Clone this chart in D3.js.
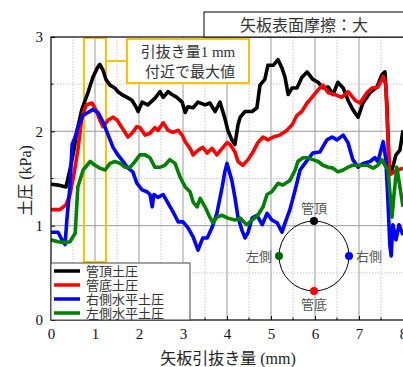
<!DOCTYPE html>
<html>
<head>
<meta charset="utf-8">
<script src="https://cdn.jsdelivr.net/npm/d3@7"></script>
<style>
  body { margin: 0; background: #fff; }
  svg { display: block; font-family: "Liberation Serif", "Noto Sans CJK JP", serif; }
</style>
</head>
<body>
<div id="chart"></div>
<script>
// pull-out displacement (mm) and earth pressure (kPa)
const topX = [0,0.16,0.34,0.43,0.52,0.59,0.70,0.84,0.95,1.05,1.11,1.18,1.25,1.34,1.45,1.52,1.61,1.73,1.84,1.93,1.98,2.07,2.20,2.36,2.48,2.55,2.66,2.75,2.86,2.98,3.05,3.11,3.23,3.34,3.50,3.61,3.73,3.84,3.95,4.02,4.11,4.18,4.25,4.30,4.41,4.57,4.68,4.75,4.86,4.93,5.05,5.16,5.25,5.32,5.39,5.48,5.59,5.70,5.82,5.95,6.07,6.18,6.30,6.41,6.52,6.64,6.75,6.86,6.98,7.09,7.25,7.41,7.52,7.59,7.64,7.68,7.75,7.84,7.93,8.0];
const topP = [1.44,1.43,1.41,1.59,1.80,2.00,2.23,2.41,2.57,2.67,2.71,2.65,2.55,2.49,2.46,2.42,2.39,2.36,2.33,2.26,2.21,2.31,2.28,2.35,2.42,2.36,2.42,2.39,2.36,2.31,2.20,2.26,2.25,2.31,2.28,2.30,2.21,2.31,2.14,2.01,1.91,1.86,2.07,2.15,2.21,2.21,2.25,2.49,2.55,2.70,2.70,2.76,2.67,2.57,2.39,2.46,2.46,2.57,2.63,2.55,2.52,2.46,2.47,2.39,2.52,2.46,2.33,2.23,2.15,2.30,2.41,2.47,2.60,2.63,2.23,1.64,1.59,1.75,1.80,2.01];

const bottomX = [0,0.20,0.34,0.43,0.52,0.61,0.70,0.80,0.93,1.02,1.11,1.18,1.30,1.41,1.50,1.61,1.75,1.84,1.95,2.02,2.14,2.25,2.36,2.43,2.55,2.66,2.77,2.89,2.98,3.05,3.16,3.23,3.34,3.45,3.55,3.66,3.77,3.89,4.00,4.07,4.18,4.25,4.36,4.48,4.59,4.70,4.82,4.93,5.05,5.20,5.36,5.48,5.59,5.70,5.82,5.93,6.07,6.18,6.30,6.45,6.61,6.75,6.91,7.02,7.18,7.30,7.43,7.55,7.61,7.66,7.70,7.80,7.89,8.0];
const bottomP = [1.17,1.17,1.22,1.33,1.54,1.80,2.14,2.28,2.30,2.23,2.12,2.05,2.12,2.15,2.12,2.04,1.94,1.98,2.05,2.04,1.96,1.98,2.04,2.01,2.09,2.01,1.99,2.01,1.96,1.89,1.82,1.75,1.80,1.83,1.77,1.82,1.75,1.82,1.88,1.86,1.78,1.68,1.64,1.70,1.78,1.88,1.94,1.91,1.94,1.96,2.01,2.07,2.17,2.21,2.30,2.36,2.44,2.49,2.41,2.39,2.36,2.42,2.33,2.30,2.41,2.46,2.47,2.58,2.49,1.91,1.54,1.57,1.59,1.61];

const rightX = [0,0.16,0.25,0.32,0.36,0.43,0.48,0.55,0.61,0.73,0.84,0.95,1.07,1.18,1.30,1.41,1.52,1.64,1.75,1.86,1.95,2.07,2.18,2.25,2.30,2.34,2.43,2.55,2.66,2.77,2.89,3.00,3.11,3.23,3.34,3.45,3.55,3.66,3.77,3.89,3.95,4.00,4.11,4.18,4.25,4.34,4.41,4.48,4.57,4.68,4.80,4.91,5.02,5.14,5.25,5.32,5.43,5.55,5.66,5.77,5.95,6.11,6.27,6.39,6.50,6.64,6.75,6.86,6.98,7.09,7.25,7.36,7.43,7.55,7.61,7.66,7.70,7.73,7.77,7.84,7.91,8.0];
const rightP = [0.93,0.93,0.85,0.80,1.06,1.41,1.86,1.94,2.04,2.17,2.20,2.23,2.20,2.10,1.96,1.83,1.75,1.68,1.61,1.57,1.45,1.38,1.36,1.33,1.20,1.33,1.30,1.33,1.24,1.15,1.04,1.04,0.98,0.88,0.74,0.87,0.87,0.98,1.13,1.41,1.57,1.66,1.48,1.30,1.09,0.95,0.87,0.93,1.08,1.11,1.01,1.13,1.06,1.03,0.93,1.03,1.17,1.38,1.59,1.66,1.77,1.78,1.91,1.94,1.91,1.96,1.88,1.70,1.62,1.66,1.68,1.72,1.68,1.89,1.70,1.24,0.80,0.68,1.01,0.85,1.01,0.90];

const leftX = [0,0.16,0.32,0.43,0.55,0.61,0.73,0.89,1.00,1.11,1.23,1.34,1.45,1.57,1.68,1.80,1.91,2.02,2.14,2.25,2.36,2.48,2.59,2.70,2.82,2.93,3.05,3.16,3.23,3.32,3.39,3.50,3.61,3.68,3.77,3.89,4.02,4.18,4.30,4.45,4.57,4.70,4.82,4.91,5.02,5.16,5.27,5.43,5.55,5.61,5.73,5.84,5.95,6.07,6.18,6.30,6.41,6.52,6.64,6.75,6.86,7.09,7.20,7.32,7.43,7.52,7.59,7.66,7.75,7.80,7.86,7.93,8.0];
const leftP = [0.85,0.83,0.82,0.83,0.92,1.41,1.59,1.68,1.64,1.61,1.59,1.66,1.68,1.66,1.62,1.62,1.68,1.75,1.75,1.72,1.62,1.62,1.64,1.70,1.66,1.52,1.41,1.36,1.25,1.20,1.29,1.20,1.09,1.03,1.09,1.11,1.08,1.06,1.08,1.01,1.06,1.11,1.20,1.33,1.36,1.45,1.43,1.48,1.59,1.68,1.72,1.72,1.70,1.68,1.64,1.62,1.61,1.57,1.59,1.62,1.64,1.64,1.64,1.61,1.64,1.70,1.64,1.59,1.09,1.35,1.62,1.41,1.20];

const seriesNames = ['管頂土圧', '管底土圧', '右側水平土圧', '左側水平土圧'];
const seriesColors = ['#000000', '#ff0000', '#0000ff', '#008000'];
const xTicks = [0, 1, 2, 3, 4, 5, 6, 7, 8];
const yTicks = [0, 1, 2, 3];
const peakBand = [0.75, 1.25];   // highlighted range around 1 mm

const W = 403, H = 367;
const margin = { top: 37, right: 0, bottom: 47, left: 51 };
const pw = 352, ph = H - margin.top - margin.bottom;

const svg = d3.select('#chart').append('svg').attr('width', W).attr('height', H);

const x = d3.scaleLinear().domain([0, 8]).range([margin.left, margin.left + pw]);
const y = d3.scaleLinear().domain([0, 3]).range([margin.top + ph, margin.top]);

svg.append('defs').append('clipPath').attr('id', 'plotclip')
  .append('rect').attr('x', margin.left).attr('y', margin.top).attr('width', pw).attr('height', ph);

// grid: solid on integers, dotted on halves
const grid = svg.append('g');
d3.range(0.5, 8, 0.5).forEach(v => {
  const major = v % 1 === 0;
  grid.append('line')
    .attr('x1', x(v)).attr('x2', x(v)).attr('y1', y(0)).attr('y2', y(3))
    .attr('stroke', major ? '#9a9a9a' : '#c8c8c8')
    .attr('stroke-width', 1)
    .attr('stroke-dasharray', major ? null : '1.5,1.5');
});
d3.range(0.5, 3, 0.5).forEach(v => {
  const major = v % 1 === 0;
  grid.append('line')
    .attr('x1', x(0)).attr('x2', x(8)).attr('y1', y(v)).attr('y2', y(v))
    .attr('stroke', major ? '#9a9a9a' : '#c8c8c8')
    .attr('stroke-width', 1)
    .attr('stroke-dasharray', major ? null : '1.5,1.5');
});

// orange band around the peak
const orange = '#ffc000';
svg.append('rect')
  .attr('x', x(peakBand[0])).attr('y', y(3) + 1)
  .attr('width', x(peakBand[1]) - x(peakBand[0]))
  .attr('height', 224)
  .attr('fill', 'none').attr('stroke', orange).attr('stroke-width', 2);

// series lines
const line = d3.line().x(d => x(d[0])).y(d => y(d[1]));
const seriesData = [
  d3.zip(topX, topP),
  d3.zip(bottomX, bottomP),
  d3.zip(rightX, rightP),
  d3.zip(leftX, leftP)
];
const lines = svg.append('g').attr('clip-path', 'url(#plotclip)');
seriesData.forEach((d, i) => {
  lines.append('path')
    .datum(d)
    .attr('d', line)
    .attr('fill', 'none')
    .attr('stroke', seriesColors[i])
    .attr('stroke-width', 3.6)
    .attr('stroke-linejoin', 'round');
});

// frame
svg.append('rect')
  .attr('x', margin.left).attr('y', margin.top).attr('width', pw + 2).attr('height', ph)
  .attr('fill', 'none').attr('stroke', '#000').attr('stroke-width', 1.2);

// inward ticks
const xAxis = d3.axisBottom(x).tickValues(xTicks).tickSize(-4).tickPadding(8).tickFormat(d3.format('d'));
const gx = svg.append('g').attr('transform', `translate(0,${y(0)})`).call(xAxis);
gx.select('.domain').remove();
gx.selectAll('text').attr('font-size', 15).attr('font-family', 'Liberation Serif').attr('fill', '#111');

const yAxis = d3.axisLeft(y).tickValues(yTicks).tickSize(-4).tickPadding(8).tickFormat(d3.format('d'));
const gy = svg.append('g').attr('transform', `translate(${x(0)},0)`).call(yAxis);
gy.select('.domain').remove();
gy.selectAll('text').attr('font-size', 15).attr('font-family', 'Liberation Serif').attr('fill', '#111');

// minor ticks
d3.range(0.5, 8, 1).forEach(v => {
  svg.append('line').attr('x1', x(v)).attr('x2', x(v)).attr('y1', y(0)).attr('y2', y(0) - 2.5).attr('stroke', '#000');
});
d3.range(0.5, 3, 1).forEach(v => {
  svg.append('line').attr('x1', x(0)).attr('x2', x(0) + 2.5).attr('y1', y(v)).attr('y2', y(v)).attr('stroke', '#000');
});

// axis titles
svg.append('text')
  .attr('x', 228).attr('y', 364)
  .attr('text-anchor', 'middle').attr('font-size', 16).attr('fill', '#222')
  .text('矢板引抜き量 (mm)');
svg.append('text')
  .attr('transform', `translate(31,${(y(0) + y(3)) / 2 + 2}) rotate(-90)`)
  .attr('text-anchor', 'middle').attr('font-size', 16).attr('fill', '#222')
  .text('土圧 (kPa)');

// title box
svg.append('rect')
  .attr('x', 204).attr('y', 12).attr('width', 210).attr('height', margin.top - 12)
  .attr('fill', '#fff').attr('stroke', '#000').attr('stroke-width', 1);
svg.append('text')
  .attr('x', 304).attr('y', 31)
  .attr('text-anchor', 'middle').attr('font-size', 16).attr('fill', '#333')
  .text('矢板表面摩擦：大');

// annotation
svg.append('line')
  .attr('x1', x(peakBand[1])).attr('x2', 127).attr('y1', 61).attr('y2', 61)
  .attr('stroke', orange).attr('stroke-width', 2);
svg.append('rect')
  .attr('x', 127).attr('y', 39).attr('width', 122).attr('height', 44)
  .attr('fill', '#fff').attr('stroke', orange).attr('stroke-width', 2);
svg.append('text')
  .attr('x', 188).attr('y', 57).attr('text-anchor', 'middle').attr('font-size', 15).attr('fill', '#333')
  .text('引抜き量1 mm');
svg.append('text')
  .attr('x', 190).attr('y', 77).attr('text-anchor', 'middle').attr('font-size', 15).attr('fill', '#333')
  .text('付近で最大値');

// legend
const lg = svg.append('g');
lg.append('rect')
  .attr('x', margin.left).attr('y', 263).attr('width', 139).attr('height', y(0) - 263)
  .attr('fill', '#fff').attr('stroke', '#444').attr('stroke-width', 1);
seriesNames.forEach((name, i) => {
  const ly = 271 + i * 14;
  lg.append('line')
    .attr('x1', 54).attr('x2', 80).attr('y1', ly).attr('y2', ly)
    .attr('stroke', seriesColors[i]).attr('stroke-width', 3.5);
  lg.append('text')
    .attr('x', 86).attr('y', ly + 4.5).attr('font-size', 13).attr('fill', '#333')
    .text(name);
});

// pipe cross-section diagram
const cx = 314, cy = 256, r = 35;
const dg = svg.append('g');
dg.append('circle').attr('cx', cx).attr('cy', cy).attr('r', r)
  .attr('fill', 'none').attr('stroke', '#000').attr('stroke-width', 1);
const pts = [
  { dx: 0, dy: -r, c: seriesColors[0] },
  { dx: 0, dy: r, c: seriesColors[1] },
  { dx: r, dy: 0, c: seriesColors[2] },
  { dx: -r, dy: 0, c: '#006400' }
];
pts.forEach(p => {
  dg.append('circle').attr('cx', cx + p.dx).attr('cy', cy + p.dy).attr('r', 4).attr('fill', p.c);
});
dg.append('text').attr('x', cx).attr('y', cy - r - 8).attr('text-anchor', 'middle')
  .attr('font-size', 13).attr('fill', '#555').text('管頂');
dg.append('text').attr('x', cx).attr('y', cy + r + 18).attr('text-anchor', 'middle')
  .attr('font-size', 13).attr('fill', '#555').text('管底');
dg.append('text').attr('x', cx - r - 7).attr('y', cy + 4.5).attr('text-anchor', 'end')
  .attr('font-size', 13).attr('fill', '#555').text('左側');
dg.append('text').attr('x', cx + r + 7).attr('y', cy + 4.5).attr('text-anchor', 'start')
  .attr('font-size', 13).attr('fill', '#555').text('右側');
</script>
</body>
</html>
